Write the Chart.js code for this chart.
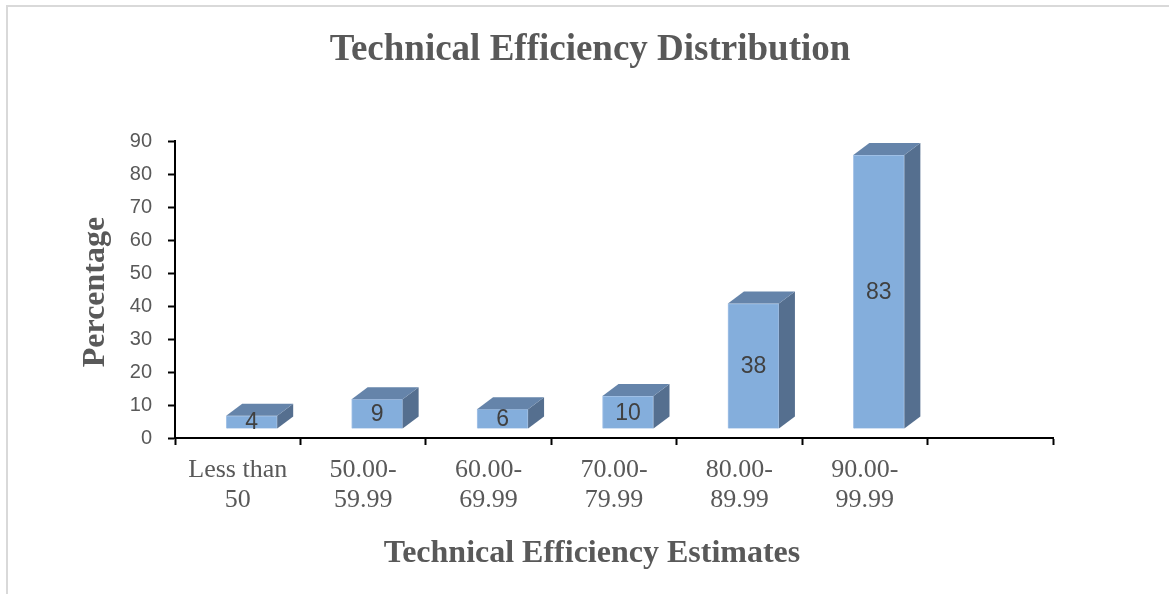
<!DOCTYPE html>
<html>
<head>
<meta charset="utf-8">
<script src="https://cdn.jsdelivr.net/npm/chart.js@4.4.1/dist/chart.umd.min.js"></script>
<style>
  html, body { margin: 0; padding: 0; background: #ffffff; }
  #wrap { width: 1169px; height: 594px; }
</style>
</head>
<body>
<div id="wrap"><canvas id="myChart" width="1169" height="594"></canvas></div>
<script>
// Datos del grafico
const categorias = [["Less than", "50"], ["50.00-", "59.99"], ["60.00-", "69.99"], ["70.00-", "79.99"], ["80.00-", "89.99"], ["90.00-", "99.99"], ""];
const porcentajes = [4, 9, 6, 10, 38, 83, null];
const yTicks = [0, 10, 20, 30, 40, 50, 60, 70, 80, 90];

const tituloGrafica = "Technical Efficiency Distribution";
const tituloX = "Technical Efficiency Estimates";
const tituloY = "Percentage";

const colorFrente = "#84aedc";
const colorLado = "#556f8f";
const colorArriba = "#6584aa";
const grisTexto = "#595959";

// desplazamiento del efecto 3D
const frenteDx = 14;
const frenteDy = -9;
const fondoDx = 16;
const fondoDy = -12;

const marcoPlugin = {
  id: "marcoPlugin",
  beforeDraw: (chart) => {
    const ctx = chart.ctx;
    ctx.save();
    ctx.fillStyle = "#ffffff";
    ctx.fillRect(0, 0, chart.width, chart.height);
    ctx.strokeStyle = "#d9d9d9";
    ctx.lineWidth = 2;
    ctx.beginPath();
    ctx.moveTo(7, chart.height + 5);
    ctx.lineTo(7, 6);
    ctx.lineTo(chart.width + 5, 6);
    ctx.stroke();
    ctx.restore();
  },
  afterDraw: (chart) => {
    const ctx = chart.ctx;
    ctx.save();
    ctx.fillStyle = grisTexto;
    ctx.textAlign = "center";
    ctx.textBaseline = "alphabetic";
    ctx.font = "bold 37px 'Liberation Serif'";
    ctx.fillText(tituloGrafica, 590, 60);
    ctx.font = "bold 32px 'Liberation Serif'";
    ctx.fillText(tituloX, 592, 562);
    ctx.translate(104, 292);
    ctx.rotate(-Math.PI / 2);
    ctx.fillText(tituloY, 0, 0);
    ctx.restore();
  },
};

// barras en 3D: cara frontal movida, lado y tapa dibujados a mano
const barras3D = {
  id: "barras3D",
  beforeDatasetsDraw: (chart) => {
    chart.ctx.save();
    chart.ctx.translate(frenteDx, frenteDy);
  },
  afterDatasetsDraw: (chart) => {
    const ctx = chart.ctx;
    const meta = chart.getDatasetMeta(0);
    meta.data.forEach((bar, i) => {
      if (porcentajes[i] === null) return;
      const { x, y, base, width } = bar.getProps(["x", "y", "base", "width"], true);
      const left = x - width / 2;
      const right = x + width / 2;

      ctx.fillStyle = colorLado;
      ctx.beginPath();
      ctx.moveTo(right, y);
      ctx.lineTo(right + fondoDx, y + fondoDy);
      ctx.lineTo(right + fondoDx, base + fondoDy);
      ctx.lineTo(right, base);
      ctx.closePath();
      ctx.fill();

      ctx.fillStyle = colorArriba;
      ctx.beginPath();
      ctx.moveTo(left, y);
      ctx.lineTo(left + fondoDx, y + fondoDy);
      ctx.lineTo(right + fondoDx, y + fondoDy);
      ctx.lineTo(right, y);
      ctx.closePath();
      ctx.fill();

      ctx.fillStyle = "#404040";
      ctx.font = "23px 'Liberation Sans'";
      ctx.textAlign = "center";
      ctx.textBaseline = "middle";
      ctx.fillText(String(porcentajes[i]), x, (y + base) / 2 + 1);
    });
    ctx.restore();
  },
};

const config = {
  type: "bar",
  data: {
    labels: categorias,
    datasets: [
      {
        data: porcentajes,
        backgroundColor: colorFrente,
        borderColor: "#a8c5e8",
        borderWidth: 1,
        barThickness: 51,
        clip: false,
      },
    ],
  },
  options: {
    responsive: false,
    animation: false,
    devicePixelRatio: 1,
    layout: {
      padding: { top: 141, left: 75, right: 116, bottom: 0 },
    },
    plugins: {
      legend: { display: false },
      tooltip: { enabled: false },
    },
    scales: {
      x: {
        afterFit: (scale) => {
          scale.height = 156;
        },
        border: { display: true, color: "#000000", width: 2 },
        grid: {
          offset: true,
          drawOnChartArea: false,
          drawTicks: true,
          tickLength: 7,
          tickWidth: 2,
          tickColor: "#000000",
        },
        ticks: {
          color: grisTexto,
          padding: 11,
          maxRotation: 0,
          autoSkip: false,
          font: { family: "'Liberation Serif'", size: 26, lineHeight: 1.12 },
        },
      },
      y: {
        min: 0,
        max: 90,
        afterFit: (scale) => {
          scale.width = 100;
        },
        afterBuildTicks: (scale) => {
          scale.ticks = yTicks.map((v) => ({ value: v }));
        },
        border: { display: true, color: "#000000", width: 2 },
        grid: {
          drawOnChartArea: false,
          drawTicks: true,
          tickLength: 7,
          tickWidth: 2,
          tickColor: "#000000",
        },
        ticks: {
          color: grisTexto,
          padding: 16,
          font: { family: "'Liberation Sans'", size: 20 },
        },
      },
    },
  },
  plugins: [marcoPlugin, barras3D],
};

const myChart = new Chart(document.getElementById("myChart").getContext("2d"), config);
</script>
</body>
</html>
